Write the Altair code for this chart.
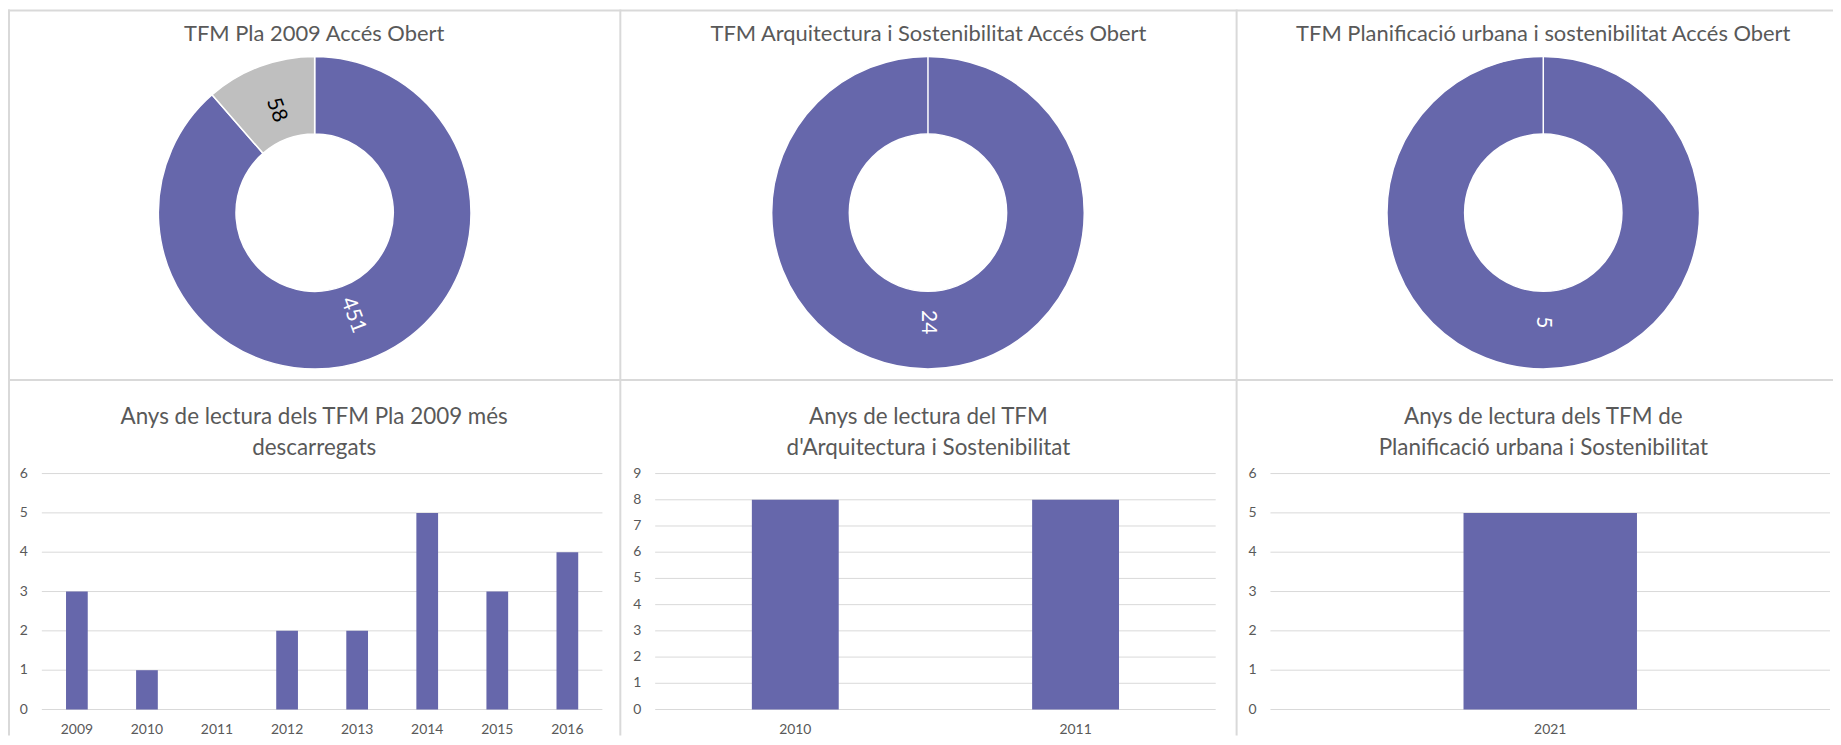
import altair as alt
import pandas as pd

PURPLE = "#6667AB"
GRAY = "#BFBFBF"
GRID = "#D9D9D9"
BORDER = "#D9D9D9"
TEXT = "#595959"
FONT = "Lato"

# ---------------- data ----------------
pie_categories = ["Sí", "No"]
pie1_values = [451, 58]
pie2_values = [24, 0]
pie3_values = [5, 0]
pie_titles = [
    "TFM Pla 2009 Accés Obert",
    "TFM Arquitectura i Sostenibilitat Accés Obert",
    "TFM Planificació urbana i sostenibilitat Accés Obert",
]

bar1_years = ["2009", "2010", "2011", "2012", "2013", "2014", "2015", "2016"]
bar1_values = [3, 1, 0, 2, 2, 5, 3, 4]
bar2_years = ["2010", "2011"]
bar2_values = [8, 8]
bar3_years = ["2021"]
bar3_values = [5]
bar_titles = [
    ["Anys de lectura dels TFM Pla 2009 més", "descarregats"],
    ["Anys de lectura del TFM", "d'Arquitectura i Sostenibilitat"],
    ["Anys de lectura dels TFM de", "Planificació urbana i Sostenibilitat"],
]
bar_ymax = [6, 9, 6]

# ---------------- layout (pixels inside the single view) ----------------
W, H = 1833, 729
COL_X = [0, 615, 1234]          # panel left edges
ROW_Y = [0, 372]                # panel top edges
DONUT_CX = [308, 924, 1542]
DONUT_CY = 204
R_OUT, R_IN, R_LBL = 157, 79, 110
TOP_TITLE_Y = 25
BAR_X = [(34, 597), (650, 1213), (1268, 1830)]
BAR_Y0, BAR_Y1 = 703, 466       # pixel of value 0 and of the max value
BAR_TITLE_Y = [409, 440]
XLAB_Y = 724
TITLE_CX = [307.5, 924.5, 1542]

DUMMY = alt.Data(values=[{"k": 0}])
layers = []

# panel borders
for x in [1] + COL_X[1:]:
    layers.append(alt.Chart(DUMMY).mark_rule(color=BORDER, strokeWidth=2).encode(
        x=alt.value(x), y=alt.value(0), y2=alt.value(H)))
for y in [1] + ROW_Y[1:]:
    layers.append(alt.Chart(DUMMY).mark_rule(color=BORDER, strokeWidth=2).encode(
        y=alt.value(y), x=alt.value(0), x2=alt.value(W)))


def text_layer(text, x, y, size):
    return alt.Chart(DUMMY).mark_text(
        font=FONT, fontSize=size, color=TEXT, align="center", baseline="middle"
    ).encode(x=alt.value(x), y=alt.value(y), text=alt.value(text))


def donut_layers(values, cx, cy):
    total = sum(values)
    cum = 0
    mids = []
    for v in values:
        mids.append((cum + v / 2) / total * 360)
        cum += v
    df = pd.DataFrame({
        "cat": pie_categories,
        "value": values,
        "ord": list(range(len(values))),
        "ang": [(m - 90) % 180 for m in mids],
    })
    base = alt.Chart(df).encode(
        theta=alt.Theta("value:Q", stack=True),
        order=alt.Order("ord:Q"),
    )
    arc = base.mark_arc(innerRadius=R_IN, outerRadius=R_OUT, stroke="white", strokeWidth=1.5).encode(
        x=alt.value(cx), y=alt.value(cy),
        color=alt.Color("cat:N", scale=alt.Scale(domain=pie_categories, range=[PURPLE, GRAY]), legend=None),
    )
    lbl = base.transform_filter("datum.value > 0").mark_text(
        radius=R_LBL, font=FONT, fontSize=21, baseline="middle", align="center"
    ).encode(
        x=alt.value(cx), y=alt.value(cy),
        text=alt.Text("value:Q"),
        angle=alt.Angle("ang:Q", scale=None),
        color=alt.condition("datum.ord == 0", alt.value("white"), alt.value("black")),
    )
    return [arc, lbl]


def bar_layers(years, values, ymax, x0, x1):
    df = pd.DataFrame({"year": years, "n": values})
    ticks = pd.DataFrame({"t": list(range(ymax + 1))})
    xs = alt.Scale(domain=years, range=[x0, x1], paddingInner=0.69, paddingOuter=0.345)
    ys = alt.Scale(domain=[0, ymax], range=[BAR_Y0, BAR_Y1], nice=False, zero=True)
    grid = alt.Chart(ticks).mark_rule(color=GRID, strokeWidth=1).encode(
        y=alt.Y("t:Q", scale=ys, axis=None), x=alt.value(x0), x2=alt.value(x1))
    ylab = alt.Chart(ticks).mark_text(
        font=FONT, fontSize=14, color=TEXT, align="right", baseline="middle"
    ).encode(y=alt.Y("t:Q", scale=ys, axis=None), x=alt.value(x0 - 14), text=alt.Text("t:Q"))
    bars = alt.Chart(df).mark_bar(color=PURPLE).encode(
        x=alt.X("year:N", scale=xs, axis=None, sort=years),
        y=alt.Y("n:Q", scale=ys, axis=None),
    )
    xlab = alt.Chart(df).mark_text(
        font=FONT, fontSize=14, color=TEXT, align="center", baseline="middle"
    ).encode(x=alt.X("year:N", scale=xs, axis=None, sort=years), y=alt.value(XLAB_Y), text="year:N")
    return [grid, ylab, bars, xlab]


pie_values = [pie1_values, pie2_values, pie3_values]
for i in range(3):
    layers += donut_layers(pie_values[i], DONUT_CX[i], DONUT_CY)
    layers.append(text_layer(pie_titles[i], TITLE_CX[i], TOP_TITLE_Y, 22))

bar_years = [bar1_years, bar2_years, bar3_years]
bar_values = [bar1_values, bar2_values, bar3_values]
for i in range(3):
    x0, x1 = BAR_X[i]
    layers += bar_layers(bar_years[i], bar_values[i], bar_ymax[i], x0, x1)
    layers.append(text_layer(bar_titles[i][0], TITLE_CX[i], BAR_TITLE_Y[0], 22.5))
    layers.append(text_layer(bar_titles[i][1], TITLE_CX[i], BAR_TITLE_Y[1], 22.5))

chart = (
    alt.layer(*layers)
    .resolve_scale(x="independent", y="independent", theta="independent")
    .properties(width=W, height=H, padding=0, autosize=alt.AutoSizeParams(type="none"))
    .configure_view(strokeWidth=0)
)

chart.save("out.html", embed_options={"renderer": "svg", "actions": False})
